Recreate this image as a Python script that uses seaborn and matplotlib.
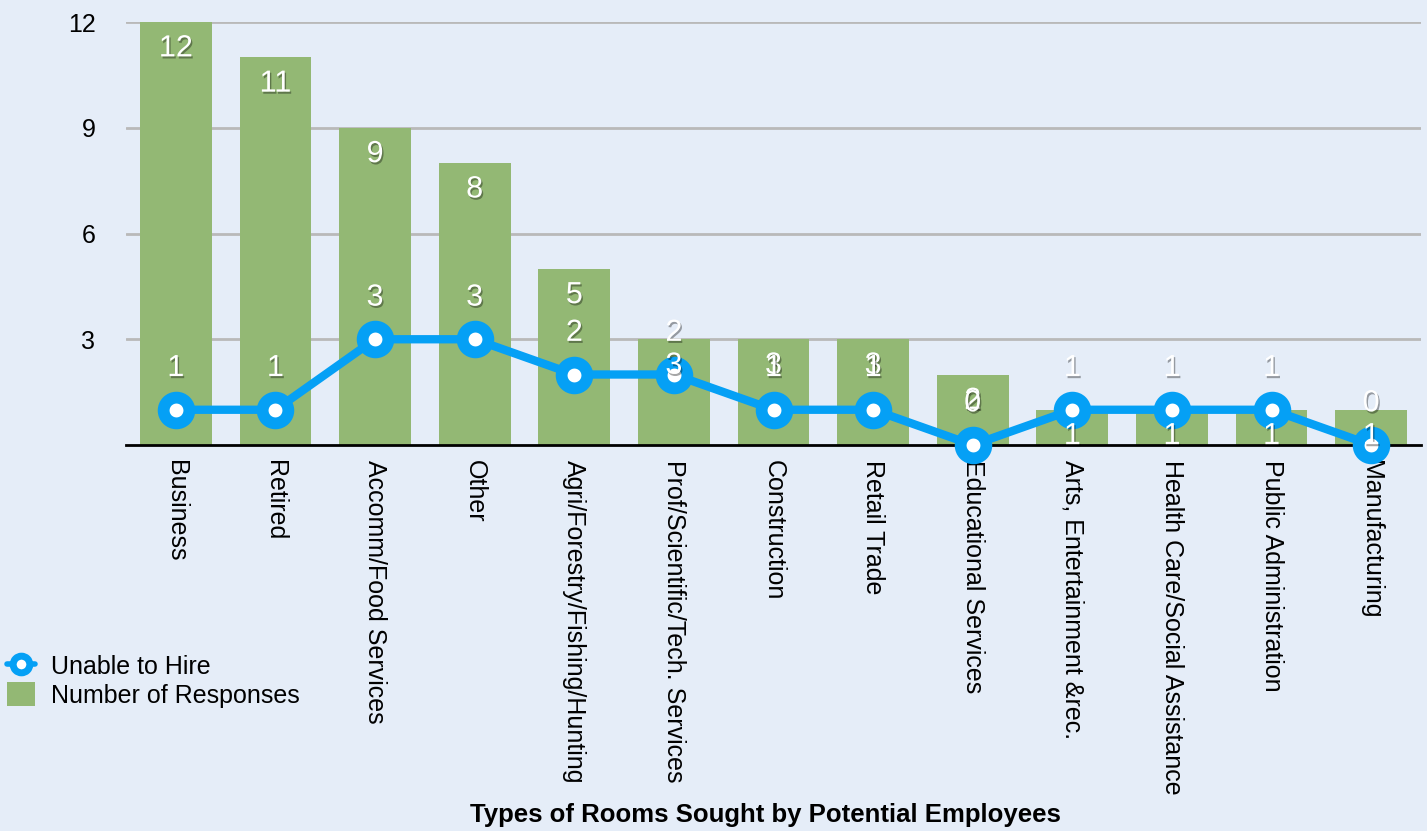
import matplotlib
matplotlib.use("Agg")
import matplotlib.pyplot as plt
import matplotlib.patheffects as pe
from matplotlib.lines import Line2D
from matplotlib.patches import Patch
import pandas as pd
import seaborn as sns

categories = [
    "Business", "Retired", "Accomm/Food Services", "Other",
    "Agri/Forestry/Fishing/Hunting", "Prof/Scientific/Tech. Services",
    "Construction", "Retail Trade", "Educational Services",
    "Arts, Entertainment &rec.", "Health Care/Social Assistance",
    "Public Administration", "Manufacturing",
]
responses = [12, 11, 9, 8, 5, 3, 3, 3, 2, 1, 1, 1, 1]
unable_to_hire = [1, 1, 3, 3, 2, 2, 1, 1, 0, 1, 1, 1, 0]
y_ticks = [3, 6, 9, 12]
series_names = ["Unable to Hire", "Number of Responses"]
x_title = "Types of Rooms Sought by Potential Employees"

BG = "#e5edf8"
GREEN = "#93b874"
BLUE = "#05a0f5"
GRID = "#b9b9b9"

sns.set_theme(style="white")
plt.rcParams["font.family"] = ["Liberation Sans", "DejaVu Sans"]

df = pd.DataFrame({"category": categories,
                   "responses": responses,
                   "unable": unable_to_hire})

fig = plt.figure(figsize=(14.27, 8.31), dpi=100, facecolor=BG)
ax = fig.add_axes([0.0883, 0.4645, 0.9075, 0.509])
ax.set_facecolor(BG)

sns.barplot(data=df, x="category", y="responses", color=GREEN,
            saturation=1, width=0.72, ax=ax, zorder=2,
            edgecolor="none", linewidth=0)
sns.pointplot(data=df, x="category", y="unable", color=BLUE,
              errorbar=None, ax=ax, linewidth=6, markersize=18.5,
              markeredgewidth=8.5, markerfacecolor="white", zorder=4)
for ln in ax.lines:
    ln.set_clip_on(False)
    ln.set_markerfacecolor("white")
    ln.set_markeredgecolor(BLUE)

ax.set_xlim(-0.5, len(categories) - 0.5)
ax.set_ylim(0, 12)
ax.set_yticks(y_ticks)
ax.set_yticklabels([str(t) for t in y_ticks])
ax.yaxis.grid(True, color=GRID, lw=2)
ax.set_axisbelow(True)
for side in ["top", "right", "left"]:
    ax.spines[side].set_visible(False)
ax.spines["bottom"].set_color("black")
ax.spines["bottom"].set_linewidth(2)
ax.spines["bottom"].set_zorder(3)

ax.tick_params(axis="y", length=0, pad=22, labelsize=18, labelcolor="black")
ax.tick_params(axis="x", length=0, pad=11, labelsize=18, labelcolor="black")
ax.set_xticks(range(len(categories)))
ax.set_xticklabels(categories, rotation=-90, ha="center", va="top")
ax.set_ylabel("")

ax.set_xlabel(x_title, fontsize=18.5, fontweight="bold", color="black")
ax.xaxis.set_label_coords(0.494, -0.875)
ax.xaxis.label.set_va("center")

shadow = [pe.withSimplePatchShadow(offset=(1, -1.5), shadow_rgbFace="black", alpha=0.35)]
for i, v in enumerate(responses):
    ax.annotate(str(v), (i, v), xytext=(0, -19), textcoords="offset points",
                ha="center", va="center", color="white", fontsize=22,
                path_effects=shadow, zorder=6, annotation_clip=False)
for i, v in enumerate(unable_to_hire):
    ax.annotate(str(v), (i, v), xytext=(0, 30), textcoords="offset points",
                ha="center", va="center", color="white", fontsize=22,
                path_effects=shadow, zorder=6, annotation_clip=False)

handles = [
    Line2D([0], [0], color=BLUE, lw=4, marker="o", markersize=12,
           markerfacecolor="white", markeredgecolor=BLUE, markeredgewidth=5),
    Patch(facecolor=GREEN, edgecolor="none"),
]
fig.legend(handles, series_names, loc="upper left",
           bbox_to_anchor=(0.005, 1 - 654 / 831), frameon=False, fontsize=18,
           handlelength=1.1, handleheight=1.1, handletextpad=0.65,
           labelspacing=0.1, borderaxespad=0, borderpad=0, labelcolor="black")

fig.savefig("out.png", dpi=100, facecolor=BG)
